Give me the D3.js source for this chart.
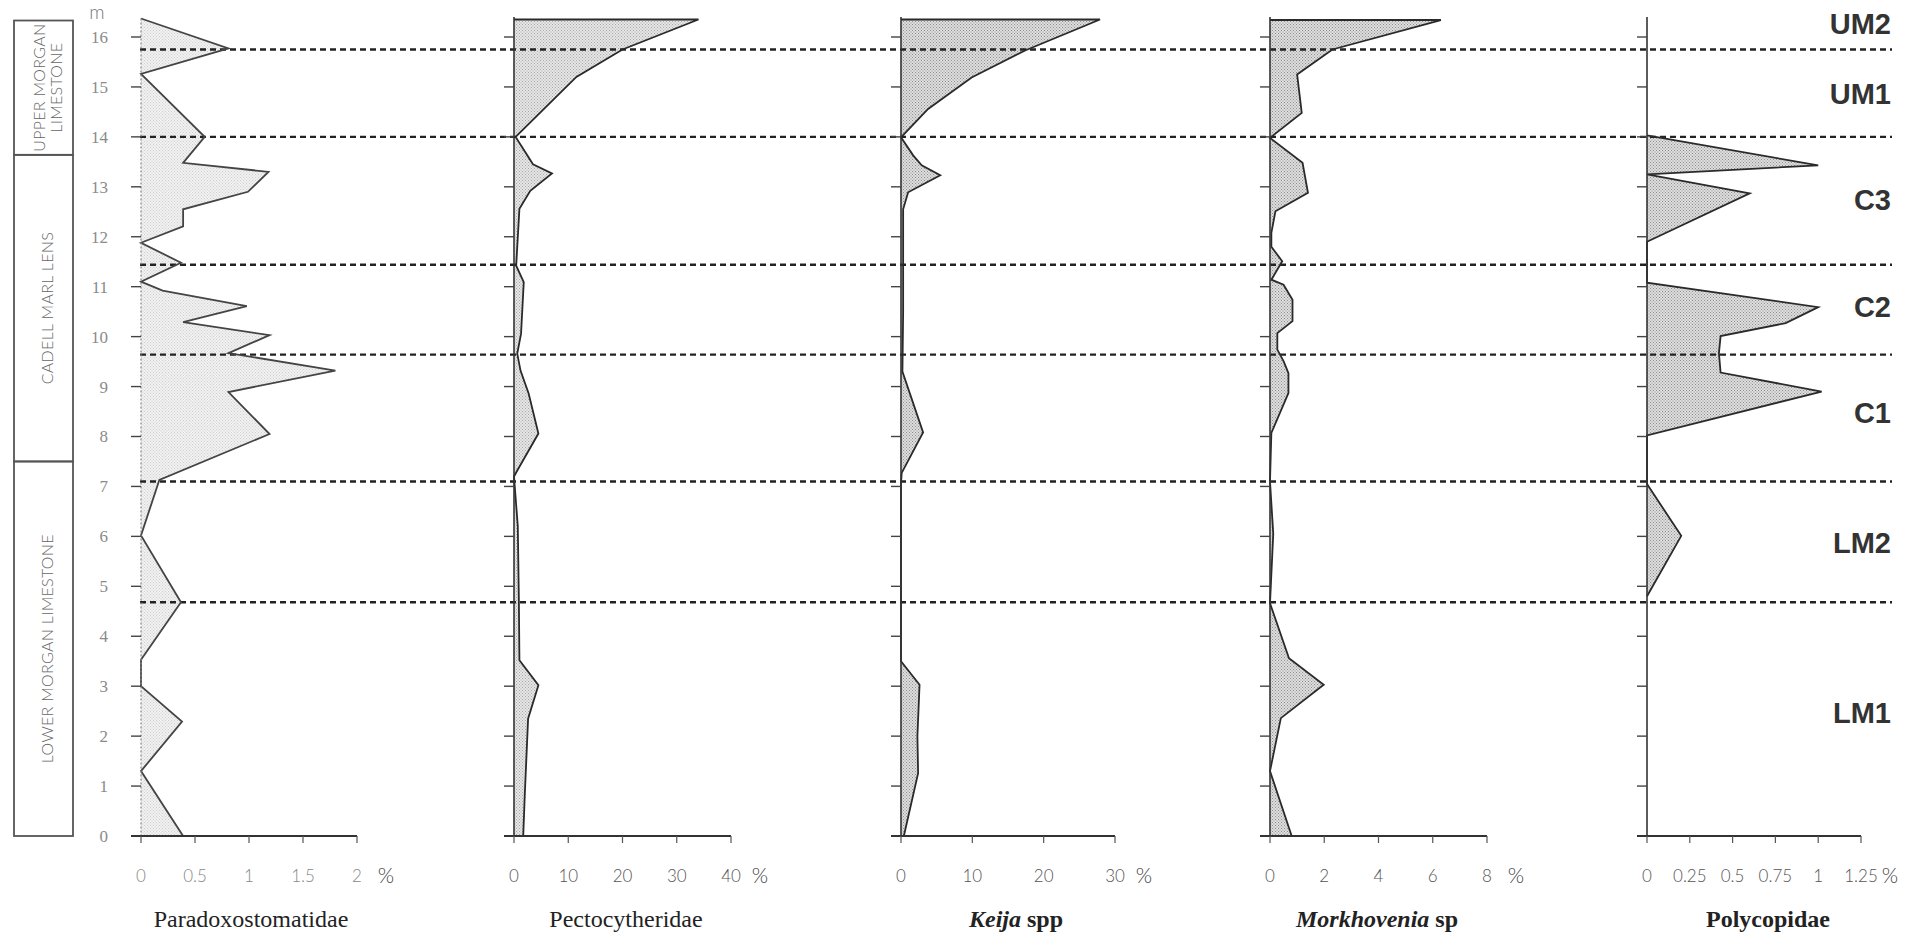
<!DOCTYPE html>
<html>
<head>
<meta charset="utf-8">
<script src="https://cdn.jsdelivr.net/npm/d3@7"></script>
<style>
  html, body { margin: 0; padding: 0; background: #fff; }
  svg { display: block; }
  .depth-label { font-family: "Liberation Serif", serif; font-size: 17px; fill: #8a8a8a; }
  .tick-label { font-family: Lato, "Open Sans", sans-serif; font-weight: 300; font-size: 17px; fill: #555; }
  .pct { font-family: Lato, "Open Sans", sans-serif; font-weight: 300; font-size: 21px; fill: #444; }
  .title { font-family: "Liberation Serif", serif; font-size: 24px; fill: #222; }
  .unit-label { font-family: Lato, "Open Sans", sans-serif; font-weight: 300; font-size: 16px; fill: #666; letter-spacing: 0.3px; }
  .zone { font-family: "Liberation Sans", Arial, sans-serif; font-weight: bold; font-size: 29px; fill: #333; }
</style>
</head>
<body>
<div id="chart"></div>
<script>
// --- Data: [depth (m), abundance (%)] read from the section ---
const paradoxostomatidae = [
  [16.37, 0], [15.77, 0.81], [15.26, 0], [14.0, 0.59], [13.48, 0.39], [13.3, 1.18],
  [12.9, 0.99], [12.55, 0.39], [12.21, 0.39], [11.88, 0], [11.48, 0.37], [11.1, 0],
  [10.92, 0.2], [10.61, 0.98], [10.29, 0.39], [10.03, 1.19], [9.67, 0.81], [9.32, 1.8],
  [8.89, 0.81], [8.05, 1.19], [7.13, 0.17], [6.02, 0], [4.68, 0.37], [3.53, 0],
  [3.0, 0], [2.29, 0.38], [1.3, 0], [0, 0.39]
];
const pectocytheridae = [
  [16.35, 34], [15.75, 20], [15.2, 11.5], [14.0, 0.3], [13.45, 3.5], [13.27, 7],
  [12.92, 3], [12.56, 1], [11.42, 0.4], [11.09, 1.8], [10.06, 1.3], [9.66, 0.6],
  [9.32, 1.2], [8.86, 2.7], [8.06, 4.5], [7.3, 0.5], [7.2, 0], [6.2, 0.7],
  [4.7, 0.9], [3.52, 1], [3.02, 4.5], [2.35, 2.6], [0.86, 2.0], [0, 1.7]
];
const keija = [
  [16.35, 27.9], [15.73, 17.4], [15.19, 9.9], [14.56, 3.8], [13.99, 0], [13.63, 1.7],
  [13.43, 2.9], [13.23, 5.5], [12.89, 1.0], [12.55, 0.3], [10.5, 0.3], [9.3, 0.2],
  [8.08, 3.1], [7.27, 0.1], [7.07, 0], [3.5, 0], [3.03, 2.6], [2.0, 2.3],
  [1.26, 2.4], [0, 0.4]
];
const morkhovenia = [
  [16.34, 6.3], [15.75, 2.3], [15.25, 1.0], [14.48, 1.17], [13.98, 0], [13.48, 1.2],
  [12.88, 1.4], [12.51, 0.2], [12.08, 0.05], [11.8, 0.05], [11.51, 0.45], [11.14, 0.05],
  [11.04, 0.5], [10.74, 0.83], [10.31, 0.83], [10.07, 0.27], [9.74, 0.27], [9.51, 0.5],
  [9.27, 0.68], [8.87, 0.68], [8.07, 0.05], [7.1, 0], [6.05, 0.12], [4.66, 0],
  [3.56, 0.7], [3.03, 1.98], [2.36, 0.4], [1.3, 0], [0, 0.8]
];
const polycopidae = [
  [14.03, 0], [13.43, 1.0], [13.25, 0], [12.87, 0.6], [11.9, 0], [11.08, 0],
  [10.59, 1.0], [10.27, 0.81], [10.01, 0.43], [9.67, 0.42], [9.28, 0.43], [8.9, 1.02],
  [8.02, 0], [7.05, 0], [6.01, 0.2], [4.8, 0]
];

// tick values for each abundance axis
const paraTicks = [0, 0.5, 1, 1.5, 2];
const pectoTicks = [0, 10, 20, 30, 40];
const keijaTicks = [0, 10, 20, 30];
const morkTicks = [0, 2, 4, 6, 8];
const polyTicks = [0, 0.25, 0.5, 0.75, 1, 1.25];
const depthTicks = d3.range(0, 17);

// zone boundaries (dashed) and zone names
const boundaries = [15.75, 14.0, 11.44, 9.64, 7.1, 4.68];
const zoneNames = ['UM2', 'UM1', 'C3', 'C2', 'C1', 'LM2', 'LM1'];
const zoneDepths = [16.27, 14.86, 12.74, 10.6, 8.47, 5.88, 2.47];

// lithostratigraphic units
const unitNames = [['UPPER MORGAN', 'LIMESTONE'], ['CADELL MARL LENS'], ['LOWER MORGAN LIMESTONE']];
const unitTops = [16.33, 13.64, 7.5];
const unitBases = [13.64, 7.5, 0];

// --- Layout ---
const W = 1919, H = 936;
const svg = d3.select('#chart').append('svg').attr('width', W).attr('height', H);
const y = d3.scaleLinear().domain([0, 16]).range([836, 37]);

const defs = svg.append('defs');
function stipple(id, bg, dot) {
  const p = defs.append('pattern').attr('id', id)
    .attr('width', 3).attr('height', 3).attr('patternUnits', 'userSpaceOnUse');
  p.append('rect').attr('width', 3).attr('height', 3).attr('fill', bg);
  p.append('rect').attr('width', 1).attr('height', 1).attr('fill', dot);
  p.append('rect').attr('x', 1.5).attr('y', 1.5).attr('width', 1).attr('height', 1).attr('fill', dot);
}
stipple('dots-light', '#f1f1f1', '#cfcfcf');
stipple('dots-mid', '#e6e6e6', '#a8a8a8');
stipple('dots-dark', '#dedede', '#8e8e8e');

const panels = [
  { data: paradoxostomatidae, ticks: paraTicks, x0: 141, x1: 357, titleX: 251,
    title: [{ t: 'Paradoxostomatidae' }], fill: 'dots-light', faintAxis: true, stroke: '#444' },
  { data: pectocytheridae, ticks: pectoTicks, x0: 514, x1: 731, titleX: 626,
    title: [{ t: 'Pectocytheridae' }], fill: 'dots-mid', stroke: '#2a2a2a' },
  { data: keija, ticks: keijaTicks, x0: 901, x1: 1115, titleX: 1016,
    title: [{ t: 'Keija', it: true }, { t: ' spp' }], bold: true, fill: 'dots-dark', stroke: '#2a2a2a' },
  { data: morkhovenia, ticks: morkTicks, x0: 1270, x1: 1487, titleX: 1377,
    title: [{ t: 'Morkhovenia', it: true }, { t: ' sp' }], bold: true, fill: 'dots-dark', stroke: '#2a2a2a' },
  { data: polycopidae, ticks: polyTicks, x0: 1647, x1: 1861, titleX: 1768,
    title: [{ t: 'Polycopidae' }], bold: true, fill: 'dots-dark', stroke: '#2a2a2a' }
];

const fillLayer = svg.append('g');
const dashLayer = svg.append('g');
const lineLayer = svg.append('g');

// --- Lithology column ---
const litho = svg.append('g');
unitNames.forEach((lines, i) => {
  const top = y(unitTops[i]), bot = y(unitBases[i]);
  litho.append('rect')
    .attr('x', 14).attr('y', top).attr('width', 59).attr('height', bot - top)
    .attr('fill', 'none').attr('stroke', '#555').attr('stroke-width', 1.8);
  const cy = (top + bot) / 2;
  const cxs = lines.length === 2 ? [38, 55] : [46];
  lines.forEach((txt, j) => {
    litho.append('text').attr('class', 'unit-label')
      .attr('transform', `translate(${cxs[j]},${cy}) rotate(-90)`)
      .attr('text-anchor', 'middle').attr('dominant-baseline', 'central')
      .text(txt);
  });
});

// depth labels on the first panel
svg.append('text').attr('x', 97).attr('y', 19).attr('text-anchor', 'middle')
  .attr('class', 'tick-label').style('font-size', '19px').style('fill', '#777').text('m');
svg.append('g').selectAll('text').data(depthTicks).join('text')
  .attr('class', 'depth-label')
  .attr('x', 108).attr('y', d => y(d)).attr('dy', '0.35em')
  .attr('text-anchor', 'end')
  .text(d => d);

// --- Panels ---
panels.forEach(p => {
  const x = d3.scaleLinear().domain(d3.extent(p.ticks)).range([p.x0, p.x1]);
  const topDepth = p.data[0][0];

  const area = d3.area()
    .y(d => y(d[0]))
    .x0(x(0))
    .x1(d => x(d[1]));
  fillLayer.append('path').datum(p.data)
    .attr('d', area).attr('fill', `url(#${p.fill})`);

  const line = d3.line().x(d => x(d[1])).y(d => y(d[0]));
  lineLayer.append('path').datum([[topDepth, 0]].concat(p.data))
    .attr('d', line).attr('fill', 'none')
    .attr('stroke', p.stroke).attr('stroke-width', 1.8).attr('stroke-linejoin', 'miter');

  const g = lineLayer.append('g');
  // vertical depth axis
  g.append('line')
    .attr('x1', x(0)).attr('x2', x(0))
    .attr('y1', y(p.faintAxis ? topDepth : 16.4)).attr('y2', y(0))
    .attr('stroke', p.faintAxis ? '#888' : '#333')
    .attr('stroke-width', p.faintAxis ? 1.2 : 1.6)
    .attr('stroke-dasharray', p.faintAxis ? '2,2' : null);
  g.selectAll('.dtick').data(depthTicks).join('line')
    .attr('x1', x(0) - 10).attr('x2', x(0))
    .attr('y1', d => y(d)).attr('y2', d => y(d))
    .attr('stroke', '#444').attr('stroke-width', 1.4);

  // abundance axis
  g.append('line')
    .attr('x1', x(0) - 10).attr('x2', p.x1)
    .attr('y1', y(0)).attr('y2', y(0))
    .attr('stroke', '#333').attr('stroke-width', 2);
  g.selectAll('.xtick').data(p.ticks).join('line')
    .attr('x1', d => x(d)).attr('x2', d => x(d))
    .attr('y1', y(0)).attr('y2', y(0) + 7)
    .attr('stroke', '#555').attr('stroke-width', 1.2);
  g.selectAll('.xlabel').data(p.ticks).join('text')
    .attr('class', 'tick-label')
    .style('fill', p.faintAxis ? '#888' : '#555')
    .attr('x', d => x(d)).attr('y', y(0) + 46)
    .attr('text-anchor', 'middle')
    .text(d => d3.format('~g')(d));
  g.append('text').attr('class', 'pct')
    .attr('x', p.x1 + 29).attr('y', y(0) + 47)
    .attr('text-anchor', 'middle').text('%');

  const t = g.append('text').attr('class', 'title')
    .attr('x', p.titleX).attr('y', 927).attr('text-anchor', 'middle')
    .style('font-weight', p.bold ? 'bold' : 'normal');
  p.title.forEach(s => {
    t.append('tspan').style('font-style', s.it ? 'italic' : 'normal').text(s.t);
  });
});

// --- Zone boundaries ---
dashLayer.selectAll('line').data(boundaries).join('line')
  .attr('x1', 140).attr('x2', 1892)
  .attr('y1', d => y(d)).attr('y2', d => y(d))
  .attr('stroke', '#222').attr('stroke-width', 2.4)
  .attr('stroke-dasharray', '6,4');

svg.append('g').selectAll('text').data(zoneNames).join('text')
  .attr('class', 'zone')
  .attr('x', 1891).attr('y', (d, i) => y(zoneDepths[i]))
  .attr('dy', '0.36em').attr('text-anchor', 'end')
  .text(d => d);
</script>
</body>
</html>
